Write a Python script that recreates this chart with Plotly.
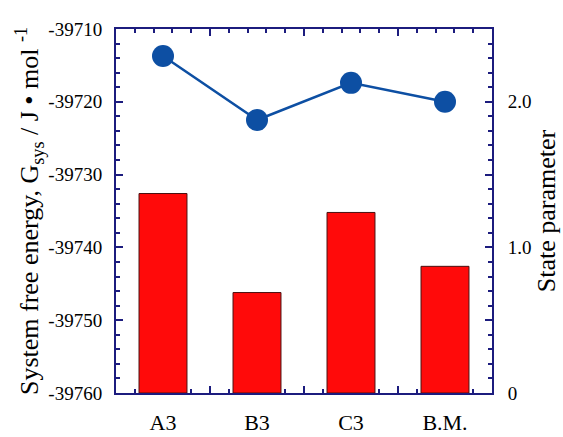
import plotly.graph_objects as go

# Samples along the x axis
categories = ["A3", "B3", "C3", "B.M."]
# System free energy (left axis), J/mol
free_energy = [-39713.7, -39722.5, -39717.4, -39720.0]
# State parameter (right axis)
state_param = [1.37, 0.69, 1.24, 0.87]

# Left / right tick labels
left_ticks = [-39760, -39750, -39740, -39730, -39720, -39710]
right_tickvals = [0, 1.0, 2.0]
right_ticktext = ["0", "1.0", "2.0"]

AXIS = "#1c1c7e"
FONT = "Liberation Serif"
xpos = list(range(len(categories)))

fig = go.Figure()

fig.add_trace(go.Bar(
    x=xpos, y=state_param, yaxis="y2", width=0.51,
    marker=dict(color="#ff0a0a", line=dict(color="#4a1010", width=1)),
    showlegend=False,
))

fig.add_trace(go.Scatter(
    x=xpos, y=free_energy, mode="lines+markers",
    line=dict(color="#0d4fa3", width=2.5),
    marker=dict(color="#0d4fa3", size=22),
    showlegend=False, cliponaxis=False,
))

tick_style = dict(ticks="inside", ticklen=7, tickwidth=1.5, tickcolor=AXIS)
minor_style = dict(ticks="inside", ticklen=4, tickwidth=1.5, tickcolor=AXIS)

fig.update_layout(
    width=563, height=437,
    margin=dict(l=116, r=71, t=29, b=44),
    paper_bgcolor="white", plot_bgcolor="white",
    font=dict(family=FONT, size=19, color="black"),
    xaxis=dict(
        range=[-0.5, 3.5], tickmode="array", tickvals=xpos, ticktext=categories,
        ticks="", showgrid=False, zeroline=False, automargin=False,
        showline=True, linecolor=AXIS, linewidth=2, mirror=True,
        tickfont=dict(family=FONT, size=22), ticklabelstandoff=9,
    ),
    # tick marks along the bottom and top edges
    xaxis2=dict(
        overlaying="x", side="bottom", range=[-0.5, 3.5], automargin=False,
        tickmode="array", tickvals=[0.5, 1.5, 2.5], showticklabels=False,
        **tick_style,
        minor=dict(tickmode="array",
                   tickvals=[-0.3, -0.1, 0.1, 0.3, 0.7, 0.9, 1.1, 1.3, 1.7, 1.9,
                             2.1, 2.3, 2.7, 2.9, 3.1, 3.3],
                   **minor_style),
        mirror="allticks", showline=False, showgrid=False, zeroline=False,
        layer="below traces",
    ),
    yaxis=dict(
        range=[-39760, -39710], tickmode="array", tickvals=left_ticks,
        ticktext=[str(v) for v in left_ticks], automargin=False,
        **tick_style,
        minor=dict(dtick=2, **minor_style),
        showline=True, linecolor=AXIS, linewidth=2, showgrid=False, zeroline=False,
        tickfont=dict(family=FONT, size=19), ticklabelstandoff=8,
        title=dict(text="System free energy, G<sub>sys</sub> / J \u2022 mol <sup>-1</sup>",
                   font=dict(family=FONT, size=26), standoff=2),
    ),
    yaxis2=dict(
        overlaying="y", side="right", range=[0, 2.5], automargin=False,
        tickmode="array", tickvals=right_tickvals, ticktext=right_ticktext,
        ticks="", showline=True, linecolor=AXIS, linewidth=2,
        showgrid=False, zeroline=False,
        tickfont=dict(family=FONT, size=19), ticklabelstandoff=10,
        title=dict(text="State parameter", font=dict(family=FONT, size=26), standoff=1),
    ),
    # tick marks on the right edge
    yaxis3=dict(
        overlaying="y", side="right", range=[0, 2.5], anchor="x", automargin=False,
        tickmode="linear", tick0=0, dtick=0.5, showticklabels=False,
        **tick_style,
        minor=dict(dtick=0.1, **minor_style),
        showline=False, showgrid=False, zeroline=False,
    ),
)

# invisible trace that makes the tick-only axes render
fig.add_trace(go.Scatter(x=[None], y=[None], xaxis="x2", yaxis="y3",
                         showlegend=False, hoverinfo="skip"))

fig.write_html("out.html")
